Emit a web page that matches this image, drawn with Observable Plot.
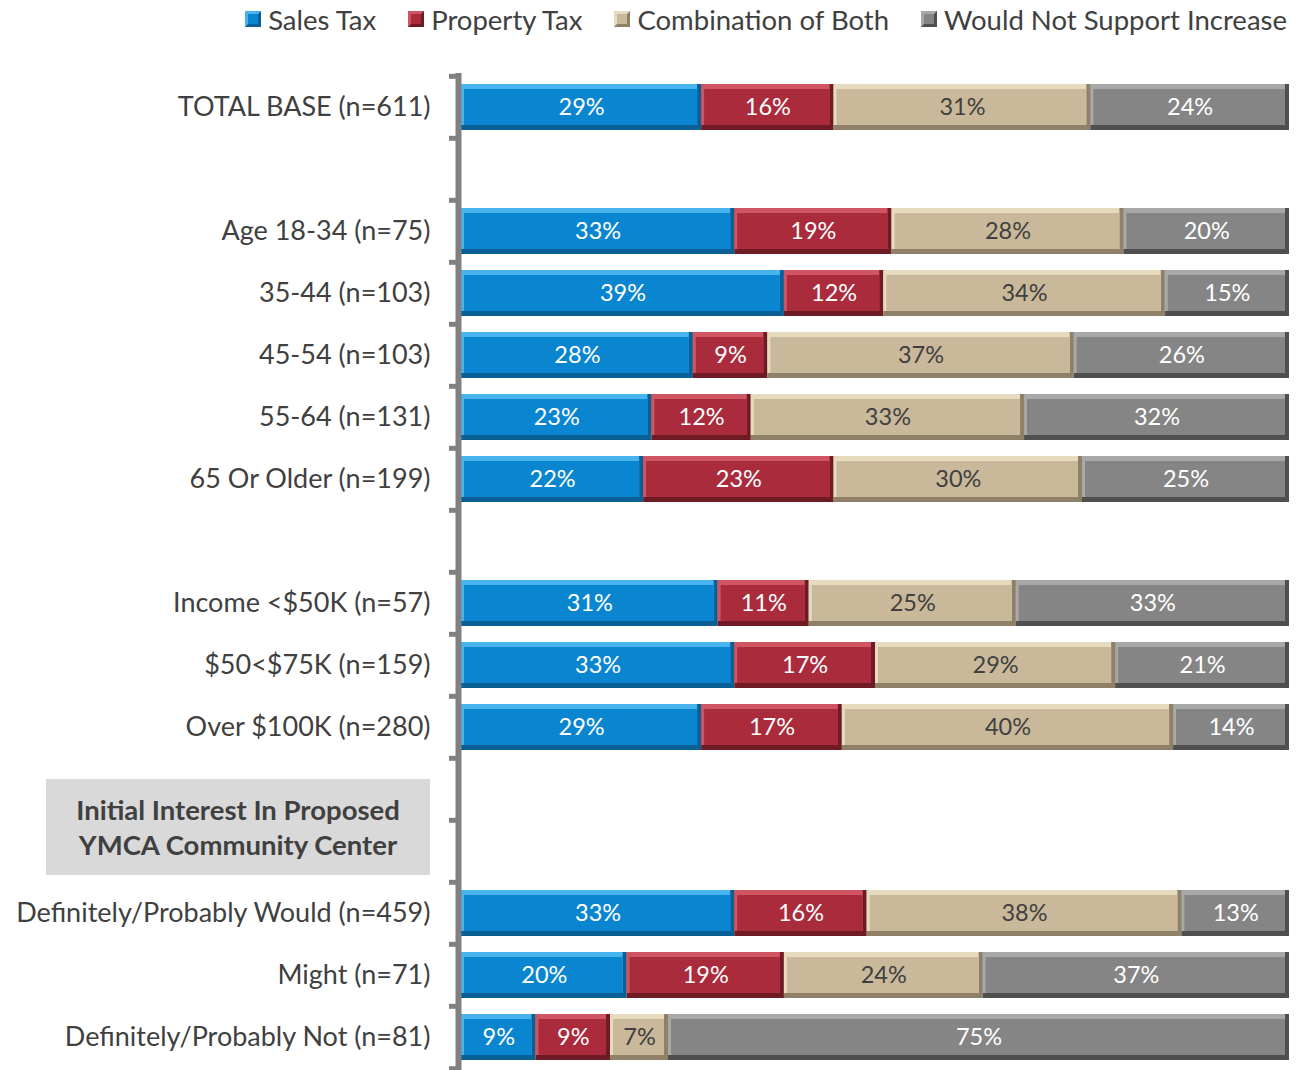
<!DOCTYPE html>
<html>
<head>
<meta charset="utf-8">
<script src="https://cdn.jsdelivr.net/npm/d3@7"></script>
<script src="https://cdn.jsdelivr.net/npm/@observablehq/plot@0.6"></script>
<style>
  html, body { margin: 0; padding: 0; background: #fff; }
  body { width: 1303px; height: 1070px; overflow: hidden; position: relative; font-family: Lato, "Open Sans", sans-serif; color: #404040; }
  #legend { height: 38px; display: flex; justify-content: flex-end; align-items: center; padding-right: 16px; font-size: 27.5px; }
  .item { display: flex; align-items: center; margin-left: 32px; }
  .sw { width: 16px; height: 16px; margin-right: 7px; box-sizing: border-box; border: 3px solid; }
  #group { position: absolute; left: 46px; top: 779px; width: 384px; height: 96px; background: #d9d9d9; display: flex; align-items: center; justify-content: center; text-align: center; font-weight: bold; font-size: 27.5px; line-height: 35px; color: #404040; }
</style>
</head>
<body>
<div id="legend"></div>
<div id="chart"></div>
<div id="group">Initial Interest In Proposed<br>YMCA Community Center</div>
<script>
// ---- data ----
const categories = [
  "TOTAL BASE (n=611)", "",
  "Age 18-34 (n=75)", "35-44 (n=103)", "45-54 (n=103)", "55-64 (n=131)", "65 Or Older (n=199)", " ",
  "Income <$50K (n=57)", "$50<$75K (n=159)", "Over $100K (n=280)", "  ", "   ",
  "Definitely/Probably Would (n=459)", "Might (n=71)", "Definitely/Probably Not (n=81)"
];
const series = ["Sales Tax", "Property Tax", "Combination of Both", "Would Not Support Increase"];
const groups = [
  "TOTAL BASE (n=611)", "Age 18-34 (n=75)", "35-44 (n=103)", "45-54 (n=103)", "55-64 (n=131)",
  "65 Or Older (n=199)", "Income <$50K (n=57)", "$50<$75K (n=159)", "Over $100K (n=280)",
  "Definitely/Probably Would (n=459)", "Might (n=71)", "Definitely/Probably Not (n=81)"
];
const salesTax    = [29, 33, 39, 28, 23, 22, 31, 33, 29, 33, 20, 9];
const propertyTax = [16, 19, 12,  9, 12, 23, 11, 17, 17, 16, 19, 9];
const combination = [31, 28, 34, 37, 33, 30, 25, 29, 40, 38, 24, 7];
const wouldNot    = [24, 20, 15, 26, 32, 25, 33, 21, 14, 13, 37, 75];

// ---- styles ----
const mainColor  = {"Sales Tax": "#0a86d0", "Property Tax": "#a92b3c", "Combination of Both": "#c9b99a", "Would Not Support Increase": "#858585"};
const lightColor = {"Sales Tax": "#48b4ee", "Property Tax": "#cf5563", "Combination of Both": "#e6dbbf", "Would Not Support Increase": "#a8a8a8"};
const darkColor  = {"Sales Tax": "#0a5f94", "Property Tax": "#6f1b26", "Combination of Both": "#8f8168", "Would Not Support Increase": "#4f4f4f"};

const columns = [salesTax, propertyTax, combination, wouldNot];
const rows = [];
groups.forEach((g, i) => series.forEach((s, j) => rows.push({group: g, series: s, value: columns[j][i]})));

// legend
const legend = document.getElementById("legend");
series.forEach(s => {
  const it = document.createElement("div");
  it.className = "item";
  const sw = document.createElement("div");
  sw.className = "sw";
  sw.style.background = mainColor[s];
  sw.style.borderColor = `${lightColor[s]} ${darkColor[s]} ${darkColor[s]} ${lightColor[s]}`;
  const t = document.createElement("span");
  t.textContent = s;
  it.append(sw, t);
  legend.append(it);
});

const H = 1033, MT = 35, MB = 0;
const step = (H - MT - MB) / categories.length;
const boundaries = categories.map(c => ({c, dy: -step / 2})).concat([{c: categories[categories.length - 1], dy: step / 2}]);

const chart = Plot.plot({
  width: 1303,
  height: H,
  marginTop: MT,
  marginBottom: MB,
  marginLeft: 461,
  marginRight: 14,
  style: {fontFamily: "Lato, 'Open Sans', sans-serif", background: "transparent", overflow: "visible"},
  x: {domain: [0, 100], axis: null},
  y: {domain: categories, paddingInner: 0.26, paddingOuter: 0.13, axis: null},
  marks: [
    Plot.axisY({tickSize: 0, tickPadding: 31, fontSize: 27, fill: "#404040", label: null}),
    Plot.barX(rows, Plot.stackX({x: "value", y: "group", fill: d => darkColor[d.series]})),
    Plot.barX(rows, Plot.stackX({x: "value", y: "group", fill: d => lightColor[d.series], insetBottom: 5, insetRight: 4})),
    Plot.barX(rows, Plot.stackX({x: "value", y: "group", fill: d => mainColor[d.series], insetTop: 5, insetBottom: 5, insetLeft: 3, insetRight: 4})),
    Plot.text(rows, Plot.stackX({x: "value", y: "group", text: d => d.value + "%", fontSize: 23.5,
      fill: d => d.series === "Combination of Both" ? "#404040" : "white"})),
    Plot.ruleX([0], {dx: -3, stroke: "#808080", strokeWidth: 6}),
    ...boundaries.map(b => Plot.ruleY([b.c], {y: d => d, x1: -1.45, x2: -0.4, dy: b.dy, stroke: "#808080", strokeWidth: 5}))
  ]
});
document.getElementById("chart").append(chart);
</script>
</body>
</html>
